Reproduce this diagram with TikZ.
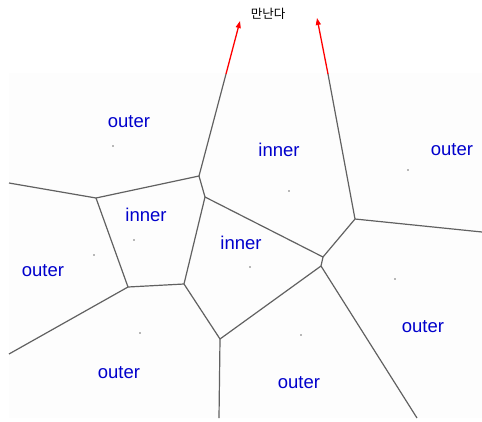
\documentclass[tikz,border=0pt]{standalone}
\usepackage{fontspec}
\setmainfont{Liberation Sans}
\newfontfamily\krfont{Noto Sans CJK KR}
\usetikzlibrary{arrows.meta}
\begin{document}
\begin{tikzpicture}[x=1pt,y=-1pt,
  edge/.style={draw=black!62, line width=1.2pt},
  redarrow/.style={draw=red, line width=1.3pt, -{Triangle[length=7pt,width=5pt]}},
  lbl/.style={text=blue!80!black, font=\fontsize{18.5}{18.5}\selectfont, inner sep=0pt},
  site/.style={circle, fill=black!55, inner sep=0pt, minimum size=1.8pt}]
\useasboundingbox (0,0) rectangle (482,421);
\fill[black!0.7] (9,73) rectangle (482,418);
% vertices
\coordinate (L1) at (9,183);
\coordinate (A) at (96,198);
\coordinate (B) at (199,176);
\coordinate (BU) at (226,74);
\coordinate (BT) at (240,21);
\coordinate (C) at (205,197);
\coordinate (D) at (128,287);
\coordinate (E) at (184,284);
\coordinate (F) at (323,257);
\coordinate (G) at (321,266);
\coordinate (H) at (355,219);
\coordinate (HU) at (328,74);
\coordinate (HT) at (317,18);
\coordinate (HR) at (482,232);
\coordinate (I) at (220,339);
\coordinate (ID) at (219,418);
\coordinate (GD) at (417,418);
\coordinate (DL) at (9,354);
% edges
\draw[edge] (L1) -- (A);
\draw[edge] (A) -- (B);
\draw[edge] (B) -- (BU);
\draw[edge] (B) -- (C);
\draw[edge] (C) -- (E);
\draw[edge] (A) -- (D);
\draw[edge] (D) -- (E);
\draw[edge] (E) -- (I);
\draw[edge] (I) -- (G);
\draw[edge] (G) -- (F);
\draw[edge] (C) -- (F);
\draw[edge] (F) -- (H);
\draw[edge] (H) -- (HR);
\draw[edge] (H) -- (HU);
\draw[edge] (G) -- (GD);
\draw[edge] (I) -- (ID);
\draw[edge] (D) -- (DL);
% red arrows
\draw[redarrow] (BU) -- (BT);
\draw[redarrow] (HU) -- (HT);
\node[inner sep=0pt, font=\krfont\fontsize{12.5}{12.5}\selectfont] (meet) at (268,14) {만난다};
% sites
\node[site] (s1) at (113,146) {};
\node[site] (s2) at (289,191) {};
\node[site] (s3) at (408,170) {};
\node[site] (s4) at (134,240) {};
\node[site] (s5) at (94,255) {};
\node[site] (s6) at (250,267) {};
\node[site] (s7) at (395,279) {};
\node[site] (s8) at (140,333) {};
\node[site] (s9) at (301,335) {};
% labels
\node[lbl] (l1) at (129,122) {outer};
\node[lbl] (l2) at (279,150) {inner};
\node[lbl] (l3) at (452,150) {outer};
\node[lbl] (l4) at (146,215) {inner};
\node[lbl] (l5) at (241,243) {inner};
\node[lbl] (l6) at (43,271) {outer};
\node[lbl] (l7) at (423,327) {outer};
\node[lbl] (l8) at (119,373) {outer};
\node[lbl] (l9) at (299,383) {outer};
\end{tikzpicture}
\end{document}
